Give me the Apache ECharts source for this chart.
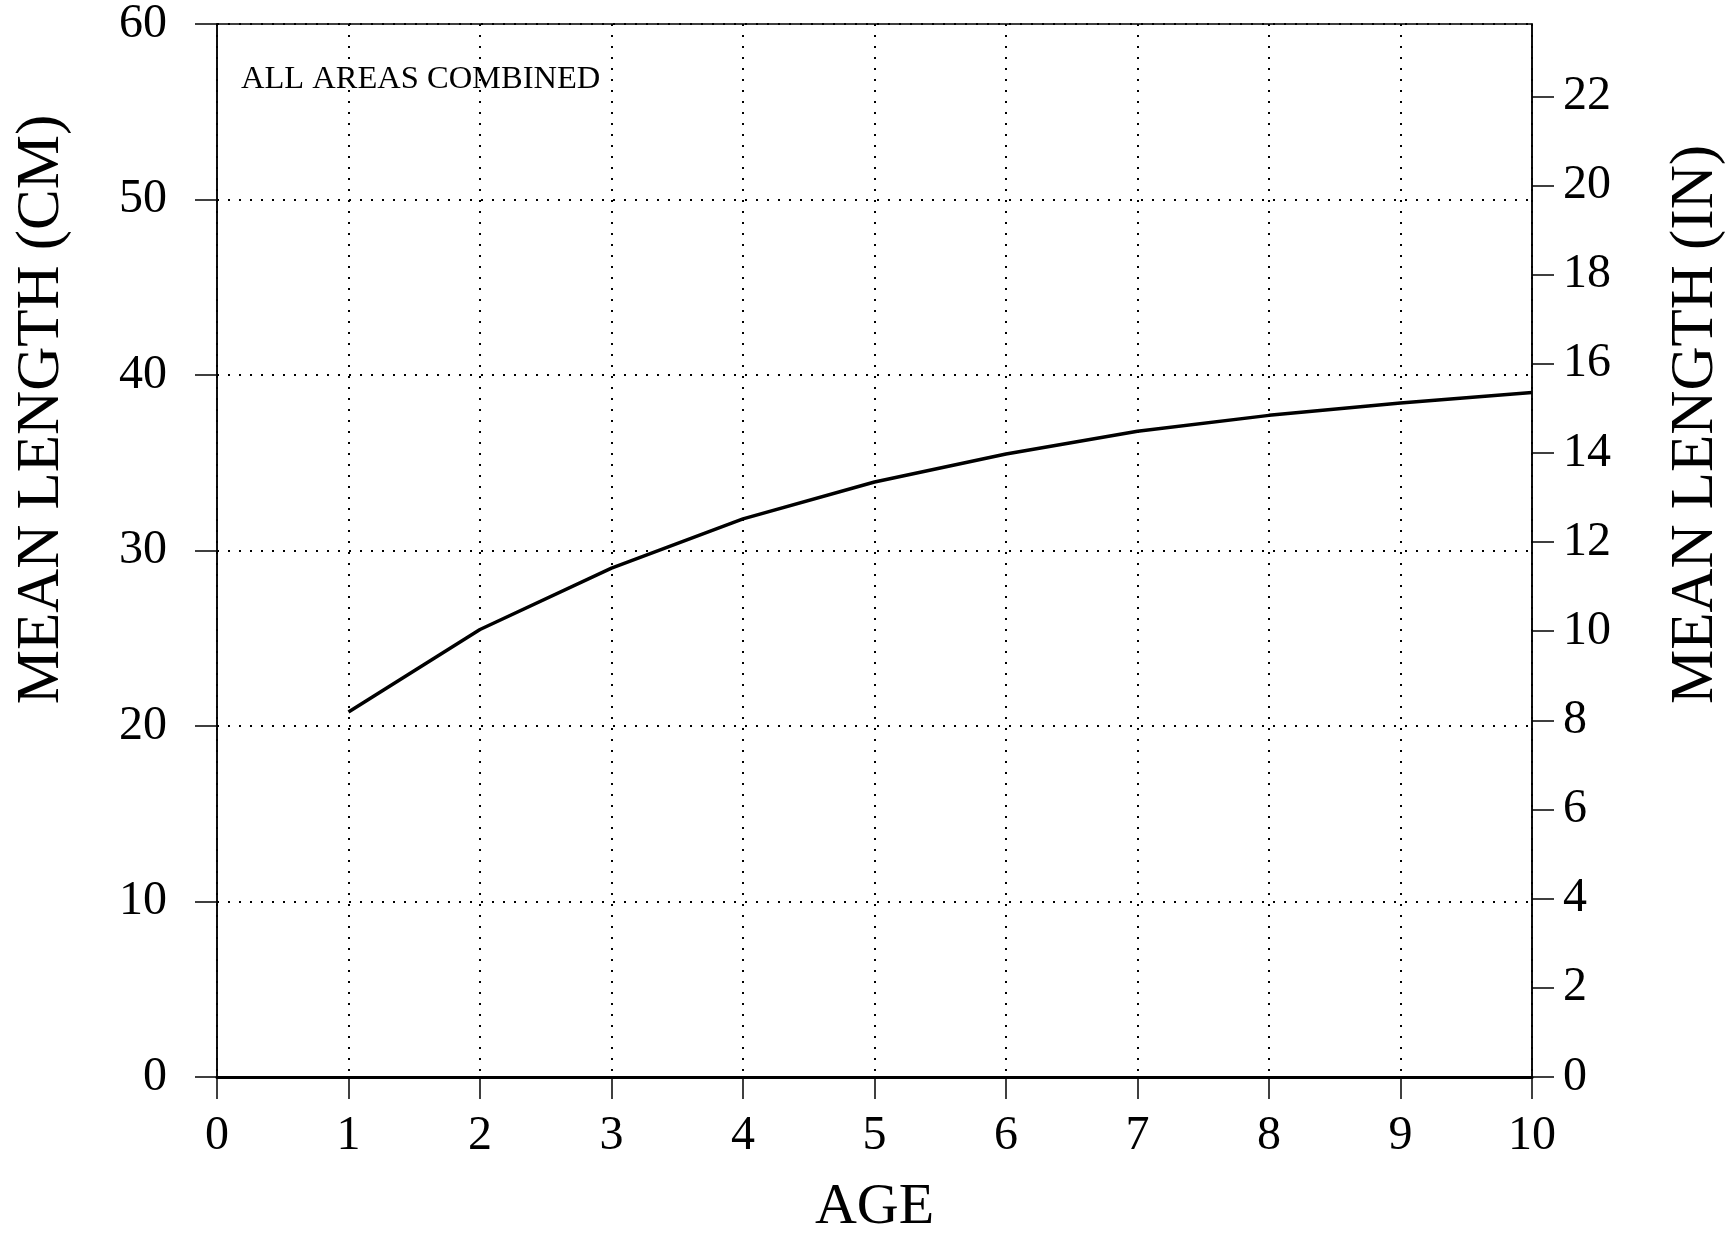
<!DOCTYPE html>
<html>
<head>
<meta charset="utf-8">
<script src="https://cdn.jsdelivr.net/npm/echarts@6/dist/echarts.min.js"></script>
<style>
html,body{margin:0;padding:0;background:#fff;}
#chart{width:1735px;height:1235px;}
</style>
</head>
<body>
<div id="chart"></div>
<script>
var ages = [1, 2, 3, 4, 5, 6, 7, 8, 9, 10];
var meanLengthCm = [20.8, 25.5, 29.0, 31.8, 33.9, 35.5, 36.8, 37.7, 38.4, 39.0];
var inchTicks = [0, 2, 4, 6, 8, 10, 12, 14, 16, 18, 20, 22];
var cmMax = 60;
var cmPerInch = 2.54;

var FONT = 'Liberation Serif';
var chart = echarts.init(document.getElementById('chart'));
chart.setOption({
  animation: false,
  backgroundColor: '#fff',
  grid: {
    left: 217, right: 203, top: 24, bottom: 158,
    containLabel: false, outerBoundsMode: 'none',
    show: true, borderColor: '#000', borderWidth: 1.5
  },
  graphic: [{
    type: 'text', left: 241, top: 63,
    style: { text: 'ALL AREAS COMBINED', font: '32.5px "Liberation Serif"', fill: '#000' }
  }],
  xAxis: {
    type: 'value', min: 0, max: 10, interval: 1,
    name: 'AGE', nameLocation: 'middle', nameGap: 102,
    nameTextStyle: { fontFamily: FONT, fontSize: 58, color: '#000' },
    axisLine: { show: true, onZero: false, lineStyle: { color: '#000', width: 3 } },
    axisTick: { show: true, length: 22, lineStyle: { color: '#000', width: 1.5 } },
    axisLabel: { fontFamily: FONT, fontSize: 48, color: '#000', margin: 35 },
    splitLine: { show: true, lineStyle: { color: '#000', width: 2, type: [2, 9] } }
  },
  yAxis: [{
    type: 'value', min: 0, max: cmMax, interval: 10, position: 'left',
    name: 'MEAN LENGTH (CM)', nameLocation: 'middle', nameGap: 145, nameRotate: 90,
    nameTextStyle: { fontFamily: FONT, fontSize: 61, color: '#000', padding: [0, 0, 0, 282], verticalAlign: 'bottom' },
    axisLine: { show: true, lineStyle: { color: '#000', width: 1.5 } },
    axisTick: { show: true, length: 22, lineStyle: { color: '#000', width: 1.5 } },
    axisLabel: { fontFamily: FONT, fontSize: 48, color: '#000', margin: 50 },
    splitLine: { show: true, lineStyle: { color: '#000', width: 2, type: [2, 9] } }
  }, {
    type: 'value', min: 0, max: cmMax / cmPerInch, position: 'right',
    name: 'MEAN LENGTH (IN)', nameLocation: 'middle', nameGap: 133, nameRotate: 90,
    nameTextStyle: { fontFamily: FONT, fontSize: 61, color: '#000', padding: [0, 0, 0, 252], verticalAlign: 'top' },
    axisLine: { show: true, lineStyle: { color: '#000', width: 1.5 } },
    axisTick: { show: true, length: 22, customValues: inchTicks, lineStyle: { color: '#000', width: 1.5 } },
    axisLabel: { fontFamily: FONT, fontSize: 48, color: '#000', margin: 31, customValues: inchTicks },
    splitLine: { show: false }
  }],
  series: [{
    type: 'line',
    yAxisIndex: 0,
    data: ages.map(function (a, i) { return [a, meanLengthCm[i]]; }),
    symbol: 'none',
    lineStyle: { color: '#000', width: 3.5 }
  }]
});
</script>
</body>
</html>
